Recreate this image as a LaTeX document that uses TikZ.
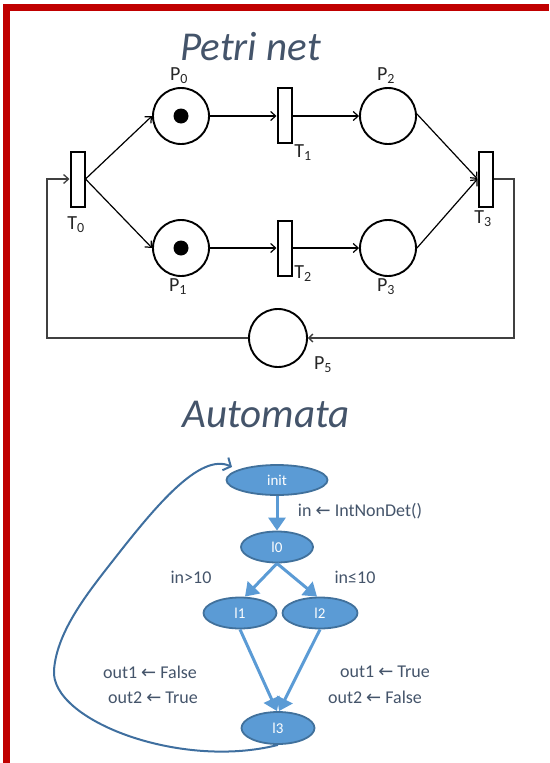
\documentclass[tikz,border=0pt]{standalone}
\usepackage{fontspec}
\setmainfont{Carlito}
\newfontfamily\sym{DejaVu Sans}
\usetikzlibrary{arrows.meta,shapes.geometric}
\definecolor{titlec}{HTML}{44546A}
\definecolor{redb}{HTML}{C00000}
\definecolor{nfill}{HTML}{5B9BD5}
\definecolor{ndraw}{HTML}{41719C}
\definecolor{loopc}{HTML}{3F6F9F}
\definecolor{pline}{HTML}{404040}
\tikzset{
  titletxt/.style={font=\fontsize{41}{44}\selectfont\itshape, text=titlec, anchor=base, inner sep=0},
  place/.style={circle, draw, line width=1.9pt, minimum size=56pt, inner sep=0},
  trans/.style={rectangle, draw, line width=2pt, minimum width=14pt, minimum height=55pt, inner sep=0},
  plab/.style={font=\fontsize{20}{22}\selectfont, text=black!85, inner sep=0},
  parrow/.style={line width=1.2pt, -{Straight Barb[length=5pt,width=9pt]}},
  ploop/.style={line width=1.3pt, draw=pline},
  st/.style={ellipse, fill=nfill, draw=ndraw, line width=1.8pt, text=white, font=\fontsize{15}{17}\selectfont, inner sep=0},
  aarrow/.style={draw=nfill, line width=3pt, -{Triangle[length=13pt,width=17pt,fill=nfill]}},
  alab/.style={font=\fontsize{18}{20}\selectfont, text=titlec, inner sep=0},
  bloop/.style={draw=loopc, line width=2pt, -{Straight Barb[length=6pt,width=14pt]}}
}
\begin{document}
\begin{tikzpicture}[x=1pt,y=-1pt]
\useasboundingbox (0,0) rectangle (549,763);
% red frame
\fill[redb] (3,4) rectangle (549,11);
\fill[redb] (3,4) rectangle (10,763);

% ---------- Petri net ----------
\node[titletxt] (t1) at (250.5,60) {Petri net};

\node[place] (P0) at (181,116) {};
\node[place] (P1) at (181,248) {};
\node[place] (P2) at (388,116) {};
\node[place] (P3) at (388,248) {};
\node[place, minimum size=58pt] (P5) at (278,338) {};
\fill (P0.center) circle (7.5);
\fill (P1.center) circle (7.5);

\node[trans] (T0) at (77.5,179) {};
\node[trans] (T1) at (284.5,115.5) {};
\node[trans] (T2) at (284.5,248) {};
\node[trans] (T3) at (485.5,179) {};

\node[plab] (lP0) at (179,76) {P\textsubscript{0}};
\node[plab] (lP2) at (386,76) {P\textsubscript{2}};
\node[plab] (lT1) at (303,153) {T\textsubscript{1}};
\node[plab] (lT0) at (76,225) {T\textsubscript{0}};
\node[plab] (lP1) at (178,287) {P\textsubscript{1}};
\node[plab] (lT2) at (303,274) {T\textsubscript{2}};
\node[plab] (lP3) at (386,287) {P\textsubscript{3}};
\node[plab] (lT3) at (483,219) {T\textsubscript{3}};
\node[plab] (lP5) at (323,365) {P\textsubscript{5}};

\draw[parrow] (T0.east) -- (P0.west);
\draw[parrow] (T0.east) -- (P1.west);
\draw[parrow] (P0.east) -- (P0.east -| T1.west);
\draw[parrow] (P0.east -| T1.east) -- (P2.west);
\draw[parrow] (P1.east) -- (T2.west);
\draw[parrow] (T2.east) -- (P3.west);
\draw[parrow] ([yshift=2pt]P2.east) -- (T3.west);
\draw[parrow] (P3.east) -- (T3.west);

\coordinate (cR) at (514,338);
\coordinate (cL) at (47,338);
\draw[ploop, -{Straight Barb[length=4pt,width=8pt]}] (T3.east) -| (cR) -- (P5.east);
\draw[ploop, -{Straight Barb[length=5pt,width=9pt]}] (P5.west) -- (cL) |- (T0.west);

% ---------- Automata ----------
\node[titletxt] (t2) at (266,427) {Automata};

\node[st, minimum width=101pt, minimum height=30pt] (init) at (277,480) {init};
\node[st, minimum width=72pt, minimum height=31pt] (l0) at (277,547) {l0};
\node[st, minimum width=73pt, minimum height=31pt] (l1) at (240,613) {l1};
\node[st, minimum width=75pt, minimum height=31pt] (l2) at (320,613) {l2};
\node[st, minimum width=73pt, minimum height=32pt] (l3) at (278,728) {l3};

\draw[aarrow] (init.south) -- (l0.north);
\draw[aarrow] (l0.south) -- ([xshift=5pt]l1.north);
\draw[aarrow] (l0.south) -- ([xshift=-3pt]l2.north);
\draw[aarrow] (l1.south) -- ([xshift=-1pt]l3.north);
\draw[aarrow] (l2.south) -- ([xshift=1pt]l3.north);

\node[alab] (a1) at (360,511) {in {\sym ←} IntNonDet()};
\node[alab] (a2) at (191,577) {in>10};
\node[alab] (a3) at (355,577) {in≤10};
\node[alab] (a4) at (150,672) {out1 {\sym ←} False};
\node[alab] (a5) at (153,698) {out2 {\sym ←} True};
\node[alab] (a6) at (385,672) {out1 {\sym ←} True};
\node[alab] (a7) at (375,697) {out2 {\sym ←} False};

\coordinate (initin) at (232,467);
\draw[bloop] (l3.south) .. controls (180,770) and (50,720) .. (54,670)
  .. controls (57,630) and (90,590) .. (115,558)
  .. controls (155,507) and (200,452) .. (initin);
\end{tikzpicture}
\end{document}
